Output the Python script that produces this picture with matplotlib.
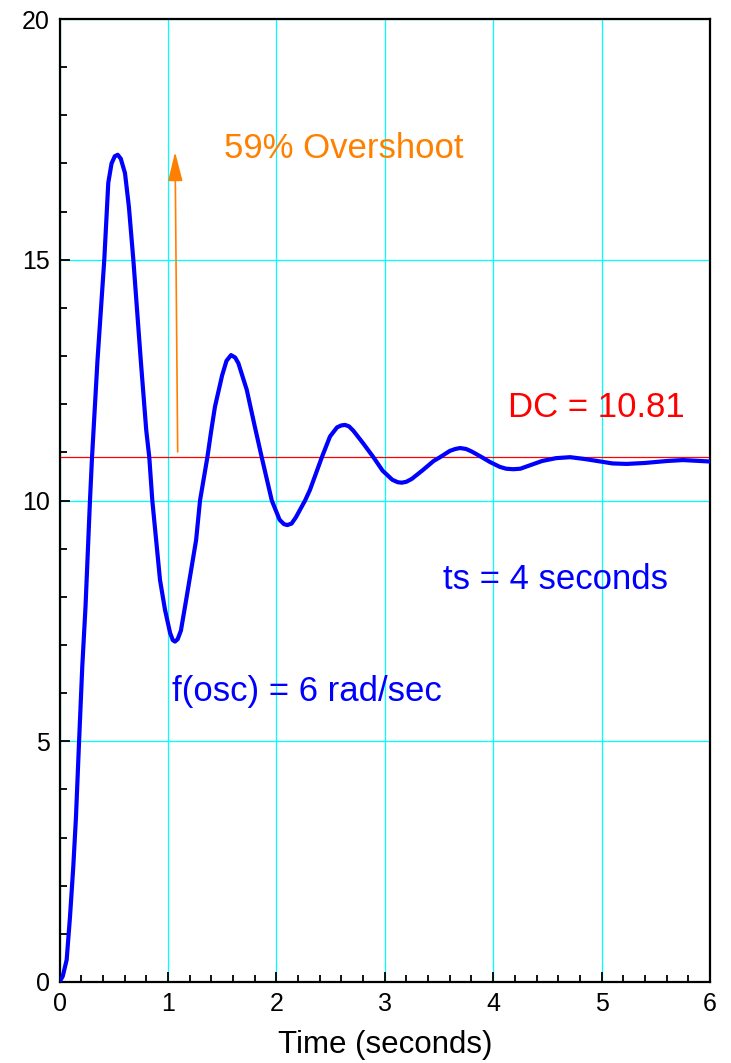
import numpy as np
import matplotlib
matplotlib.use('Agg')
import matplotlib.pyplot as plt
from matplotlib.ticker import MultipleLocator

plt.rcParams['font.family'] = ['Liberation Sans', 'DejaVu Sans']

# step response
t = [0.0, 0.03, 0.066, 0.097, 0.127, 0.152, 0.18, 0.21, 0.24, 0.281, 0.30, 0.35,
     0.413, 0.45, 0.48, 0.51, 0.537, 0.565, 0.604, 0.64, 0.681, 0.75, 0.80, 0.828,
     0.856, 0.927, 0.973, 1.02, 1.045, 1.065, 1.09, 1.12, 1.173, 1.26, 1.296, 1.364,
     1.40, 1.434, 1.50, 1.54, 1.582, 1.62, 1.65, 1.727, 1.80, 1.865, 1.958, 2.03,
     2.07, 2.10, 2.14, 2.18, 2.265, 2.31, 2.42, 2.495, 2.56, 2.60, 2.634, 2.67,
     2.71, 2.80, 2.895, 2.98, 3.07, 3.12, 3.157, 3.20, 3.25, 3.35, 3.45, 3.51,
     3.60, 3.65, 3.695, 3.75, 3.80, 3.895, 3.97, 4.06, 4.12, 4.186, 4.25, 4.30,
     4.45, 4.58, 4.71, 4.85, 4.99, 5.10, 5.23, 5.40, 5.60, 5.75, 6.0]
y = [0.0, 0.12, 0.46, 1.36, 2.39, 3.43, 4.97, 6.55, 7.8, 10.0, 10.9, 12.9,
     15.0, 16.6, 17.0, 17.15, 17.18, 17.1, 16.8, 16.1, 15.0, 12.9, 11.46, 10.9,
     10.0, 8.35, 7.73, 7.25, 7.1, 7.07, 7.12, 7.3, 8.0, 9.18, 10.0, 10.9,
     11.46, 11.95, 12.6, 12.9, 13.02, 12.97, 12.85, 12.3, 11.55, 10.9, 10.0, 9.6,
     9.51, 9.49, 9.52, 9.65, 10.0, 10.22, 10.9, 11.33, 11.52, 11.56, 11.57, 11.54,
     11.45, 11.19, 10.9, 10.62, 10.43, 10.38, 10.37, 10.39, 10.45, 10.63, 10.82, 10.9,
     11.03, 11.07, 11.09, 11.07, 11.02, 10.9, 10.8, 10.70, 10.66, 10.65, 10.66, 10.70,
     10.82, 10.88, 10.90, 10.86, 10.81, 10.77, 10.76, 10.78, 10.82, 10.84, 10.81]

dc_line = 10.9
arrow_tail = (1.09, 11.01)
arrow_tip = (1.066, 17.24)

fig = plt.figure(figsize=(7.31, 10.63), dpi=100)
ax = fig.add_axes([0.0814, 0.0762, 0.8899, 0.9059])

ax.set_xlim(0, 6)
ax.set_ylim(0, 20)
ax.xaxis.set_major_locator(MultipleLocator(1))
ax.xaxis.set_minor_locator(MultipleLocator(0.2))
ax.yaxis.set_major_locator(MultipleLocator(5))
ax.yaxis.set_minor_locator(MultipleLocator(1))
ax.grid(True, which='major', color='#00ffff', lw=0.9)
ax.set_axisbelow(True)
ax.tick_params(which='both', direction='in', top=False, right=False,
               labelsize=18, width=1.3, color='black')
ax.tick_params(which='major', length=7, pad=7)
ax.tick_params(which='minor', length=5)
for s in ax.spines.values():
    s.set_linewidth(1.6)

ax.axhline(dc_line, color='#ff0000', lw=0.9, zorder=2)
ax.plot(t, y, color='#0000ff', lw=3.0, zorder=3,
        solid_joinstyle='round', solid_capstyle='round')
ax.annotate('', xy=arrow_tip, xytext=arrow_tail,
            arrowprops=dict(arrowstyle='-|>,head_length=1.8,head_width=0.45',
                            color='#ff8000', lw=1.2, shrinkA=0, shrinkB=0))

ax.text(1.518, 17.11, '59% Overshoot', color='#ff8000', fontsize=25, va='baseline')
ax.text(4.137, 11.74, 'DC = 10.81', color='#ff0000', fontsize=25, va='baseline')
ax.text(3.537, 8.16, 'ts = 4 seconds', color='#0000ff', fontsize=25, va='baseline')
ax.text(1.038, 5.84, 'f(osc) = 6 rad/sec', color='#0000ff', fontsize=25, va='baseline')

ax.set_xlabel('Time (seconds)', fontsize=22.5, labelpad=10)

fig.savefig('out.png', dpi=100)
